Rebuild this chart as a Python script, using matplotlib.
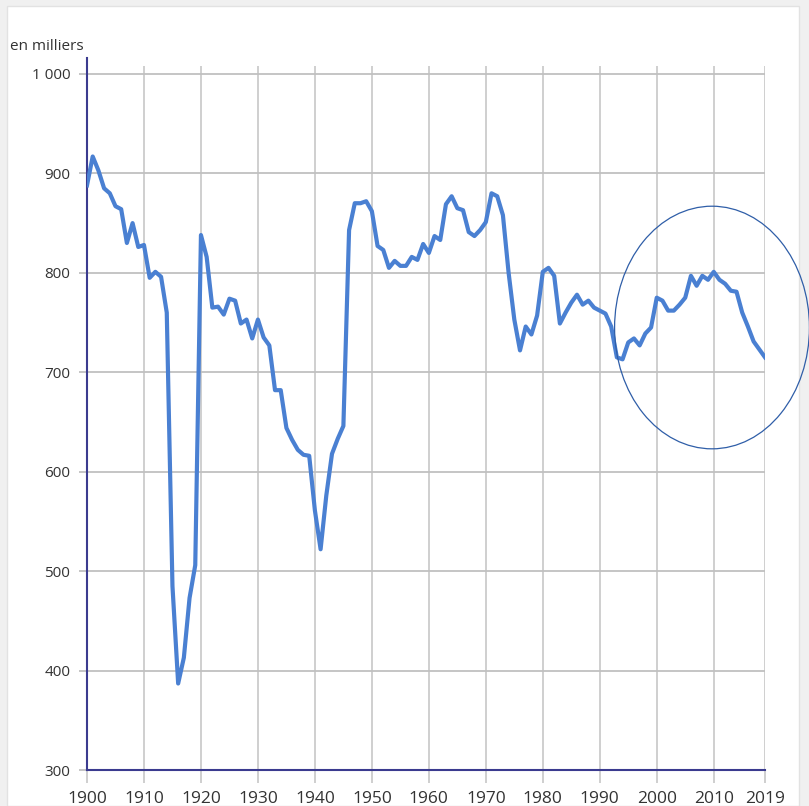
import numpy as np
import matplotlib
matplotlib.use("Agg")
import matplotlib.pyplot as plt
from matplotlib.patches import Ellipse, Rectangle

# Naissances vivantes, en milliers
years = np.arange(1900, 2020)
births = [
    888, 917, 903, 885, 880, 867, 864, 830, 850, 826,
    828, 795, 801, 796, 760, 485, 387, 413, 473, 506,
    838, 816, 765, 766, 758, 774, 772, 749, 753, 734,
    753, 735, 727, 682, 682, 644, 632, 622, 617, 616,
    561, 522, 576, 618, 633, 646, 843, 870, 870, 872,
    862, 827, 823, 805, 812, 807, 807, 816, 813, 829,
    820, 837, 833, 869, 877, 865, 863, 841, 837, 843,
    851, 880, 877, 858, 800, 753, 722, 746, 738, 757,
    801, 805, 797, 749, 760, 770, 778, 768, 772, 765,
    762, 759, 746, 715, 713, 730, 734, 727, 739, 745,
    775, 772, 762, 762, 768, 775, 797, 787, 797, 793,
    801, 793, 789, 782, 781, 760, 746, 731, 723, 715,
]
x_ticks = [1900, 1910, 1920, 1930, 1940, 1950, 1960, 1970, 1980, 1990, 2000, 2010, 2019]
y_ticks = [300, 400, 500, 600, 700, 800, 900, 1000]
y_labels = ["300", "400", "500", "600", "700", "800", "900", "1 000"]

W, H = 809, 806
fig = plt.figure(figsize=(W / 100, H / 100), dpi=100)
fig.patch.set_facecolor("#f0f0f0")
fig.patches.append(Rectangle((7 / W, 0), 792 / W, 1 - 6 / H, transform=fig.transFigure,
                             facecolor="white", edgecolor="#e2e2e2", linewidth=1.0, zorder=-10))

ax = fig.add_axes([87 / W, 36 / H, 678 / W, 704 / H])
ax.set_zorder(2)
ax.patch.set_alpha(0)

ax.plot(years, births, color="#4a80d2", linewidth=3.0, solid_joinstyle="round", zorder=3)

ax.set_xlim(1900, 2019)
ax.set_ylim(300, 1008)
ax.set_xticks(x_ticks)
ax.set_yticks(y_ticks)
ax.set_yticklabels(y_labels)
ax.grid(True, axis="y", color="#c0c0c0", linewidth=1.3)
ax.grid(True, axis="x", color="#cccccc", linewidth=1.3)
ax.set_axisbelow(True)

for s in ["top", "right"]:
    ax.spines[s].set_visible(False)
for s in ["left", "bottom"]:
    ax.spines[s].set_color("#3b3b8f")
    ax.spines[s].set_linewidth(1.5)
ax.spines["left"].set_bounds(300, 1016)

ax.tick_params(axis="y", length=6, width=1.3, color="#c0c0c0", pad=6, labelsize=11,
               labelcolor="#333333")
ax.tick_params(axis="x", length=9, width=1.3, color="#cccccc", pad=6, labelsize=12.5,
               labelcolor="#333333")
for lab in ax.get_yticklabels():
    lab.set_family(["Open Sans", "DejaVu Sans"])
for lab in ax.get_xticklabels():
    lab.set_family(["Liberation Sans Narrow", "Open Sans", "DejaVu Sans"])

# cercle autour des dernières années
ax.add_patch(Ellipse((2009.7, 745), 34.2, 244, fill=False, edgecolor="#2f5ea8",
                     linewidth=0.9, clip_on=False, zorder=4))

fig.text(10 / W, 1 - 47 / H, "en milliers", ha="left", va="center", fontsize=11,
         color="#333333", family=["Open Sans", "DejaVu Sans"])

fig.savefig("out.png", dpi=100, facecolor=fig.get_facecolor())
